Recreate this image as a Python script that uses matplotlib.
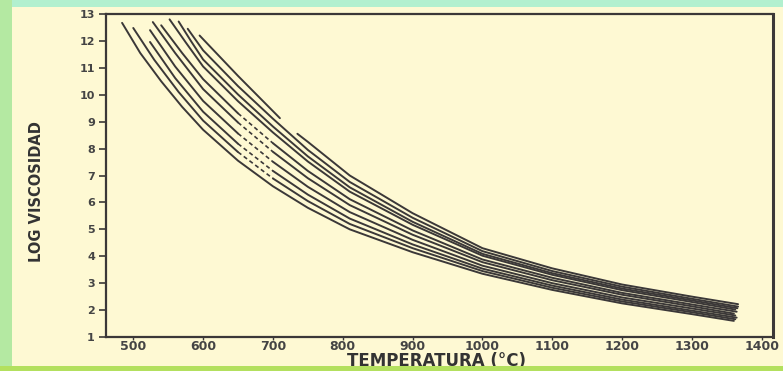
import matplotlib
matplotlib.use("Agg")
import matplotlib.pyplot as plt
from matplotlib.patches import Rectangle

# ---- data (T in °C, log viscosity) ----
t0 = [484, 510, 540, 570, 600, 650, 700, 750, 810, 900, 1000, 1100, 1200, 1300, 1360]
y0 = [12.67, 11.55, 10.5, 9.55, 8.7, 7.55, 6.6, 5.8, 5.0, 4.15, 3.35, 2.75, 2.25, 1.85, 1.6]

t1 = [500, 530, 565, 600, 650, 700, 750, 810, 900, 1000, 1100, 1200, 1300, 1362]
y1 = [12.48, 11.3, 10.1, 9.04, 7.87, 6.89, 6.05, 5.2, 4.3, 3.45, 2.83, 2.32, 1.92, 1.66]

t2 = [524, 560, 600, 650, 700, 750, 810, 900, 1000, 1100, 1200, 1300, 1364]
y2 = [11.96, 10.62, 9.37, 8.18, 7.17, 6.29, 5.4, 4.44, 3.54, 2.91, 2.39, 1.98, 1.72]

t3 = [524, 560, 600, 650, 700, 750, 810, 900, 1000, 1100, 1200, 1300, 1362]
y3 = [12.4, 11.05, 9.77, 8.56, 7.51, 6.58, 5.64, 4.61, 3.65, 3.0, 2.47, 2.06, 1.8]

t4 = [528, 560, 600, 650, 700, 750, 810, 900, 1000, 1100, 1200, 1300, 1360]
y4 = [12.7, 11.55, 10.21, 8.97, 7.88, 6.9, 5.9, 4.8, 3.78, 3.11, 2.57, 2.14, 1.87]

t5 = [540, 570, 600, 650, 700, 750, 810, 900, 1000, 1100, 1200, 1300, 1364]
y5 = [12.58, 11.55, 10.58, 9.31, 8.2, 7.17, 6.12, 4.96, 3.88, 3.2, 2.64, 2.21, 1.94]

t6 = [552, 575, 600, 650, 700, 750, 810, 900, 1000, 1100, 1200, 1300, 1362]
y6 = [12.8, 11.95, 11.05, 9.76, 8.6, 7.52, 6.4, 5.17, 4.02, 3.31, 2.74, 2.3, 2.02]

t7 = [565, 583, 600, 650, 700, 750, 810, 900, 1000, 1100, 1200, 1300, 1365]
y7 = [12.72, 11.98, 11.31, 10.01, 8.82, 7.71, 6.56, 5.28, 4.09, 3.37, 2.8, 2.36, 2.07]

t8 = [578, 600, 650, 700, 750, 810, 900, 1000, 1100, 1200, 1300, 1366]
y8 = [12.45, 11.65, 10.32, 9.11, 7.95, 6.76, 5.43, 4.19, 3.45, 2.87, 2.42, 2.13]

t9 = [735, 750, 810, 900, 1000, 1100, 1200, 1300, 1366]
y9 = [8.55, 8.25, 7.0, 5.6, 4.3, 3.55, 2.95, 2.5, 2.22]

t10 = [595, 650, 710]
y10 = [12.2, 10.7, 9.13]

curves = [(t0, y0), (t1, y1), (t2, y2), (t3, y3), (t4, y4), (t5, y5),
          (t6, y6), (t7, y7), (t8, y8), (t9, y9), (t10, y10)]

xticks = [500, 600, 700, 800, 900, 1000, 1100, 1200, 1300, 1400]
yticks = list(range(1, 14))

bg = "#fef9d3"
ink = "#3b3838"

fig = plt.figure(figsize=(7.83, 3.71), dpi=100, facecolor=bg)

# green frame bands of the screenshot
fig.patches.append(Rectangle((0, 0.982), 1, 0.018, transform=fig.transFigure, fc="#b2f0cf", ec="none"))
fig.patches.append(Rectangle((0, 0), 0.015, 1, transform=fig.transFigure, fc="#b4e9a2", ec="none"))
fig.patches.append(Rectangle((0, 0), 1, 0.013, transform=fig.transFigure, fc="#b3e05e", ec="none"))

ax = fig.add_axes([0.1354, 0.0916, 0.8518, 0.8707])
ax.set_facecolor(bg)

for i, (tt, yy) in enumerate(curves):
    if 1 <= i <= 5:
        # dashed stretch in the 650-700 °C gap
        k = tt.index(650)
        ax.plot(tt[:k + 1], yy[:k + 1], color=ink, lw=1.4, solid_capstyle="round")
        ax.plot(tt[k:k + 2], yy[k:k + 2], color=ink, lw=1.2, ls=(0, (2.5, 1.8)))
        ax.plot(tt[k + 1:], yy[k + 1:], color=ink, lw=1.4, solid_capstyle="round")
    else:
        ax.plot(tt, yy, color=ink, lw=1.4, solid_capstyle="round")

ax.set_xlim(461, 1416)
ax.set_ylim(1, 13)
ax.set_xticks(xticks)
ax.set_yticks(yticks)
ax.set_xticklabels([str(v) for v in xticks], fontsize=9, fontweight="bold", color="#444")
ax.set_yticklabels([str(v) for v in yticks], fontsize=8, fontweight="bold", color="#444")
ax.tick_params(axis="y", direction="out", length=5, width=1.2, color=ink, pad=3)
ax.tick_params(axis="x", direction="out", length=2, width=1.0, color=ink, pad=0.5)

for s in ax.spines.values():
    s.set_color(ink)
    s.set_linewidth(1.6)
ax.spines["right"].set_linewidth(2.2)

ax.set_xlabel("TEMPERATURA (°C)", fontsize=12, fontweight="bold", color="#333")
ax.xaxis.set_label_coords(0.496, -0.047)
ax.set_ylabel("LOG VISCOSIDAD", fontsize=10.5, fontweight="bold", color="#333")
ax.yaxis.set_label_coords(-0.093, 0.45)

fig.savefig("out.png", dpi=100, facecolor=bg)
